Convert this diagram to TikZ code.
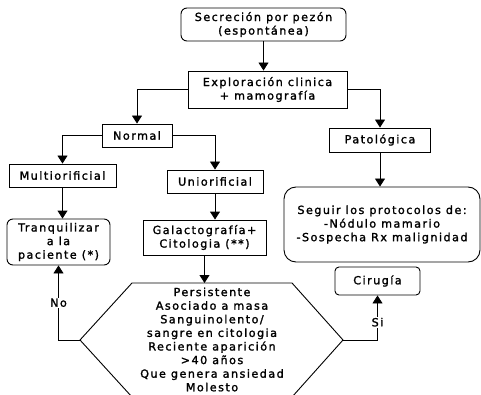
\documentclass[tikz,border=0pt]{standalone}
\usepackage{fontspec}
\setmainfont{DejaVu Sans}[LetterSpace=13,FakeBold=1.6]
\usetikzlibrary{arrows.meta}
\begin{document}
\begin{tikzpicture}[x=1pt,y=-1pt, line width=0.9pt,
  txt/.style={font=\fontsize{11.2}{13.6}\selectfont},
  box/.style={draw, txt, inner sep=0pt, align=center},
  rbox/.style={box, rounded corners=6pt},
  arr/.style={-{Triangle[length=8pt,width=10pt]}},
  lab/.style={txt, fill=white, inner sep=1pt}]
\useasboundingbox (0,0) rectangle (481,395);
\clip (0,0) rectangle (481,395);
\node[rbox, minimum width=165pt, minimum height=33pt] (sec) at (263.5,24.5) {Secreción por pezón\\(espontánea)};
\node[box, minimum width=159pt, minimum height=37pt] (exp) at (267.5,89.5) {Exploración clinica\\+ mamografía};
\node[box, minimum width=70pt, minimum height=23pt] (nor) at (137,135.5) {Normal};
\node[box, minimum width=101pt, minimum height=24pt] (pat) at (380,140) {Patológica};
\node[box, minimum width=107pt, minimum height=23pt] (mul) at (62.5,175.5) {Multiorificial};
\node[box, minimum width=96pt, minimum height=23pt] (uni) at (215,181.5) {Uniorificial};
\node[rbox, minimum width=103pt, minimum height=46pt] (tra) at (58.5,242) {Tranquilizar\\a la\\paciente (*)};
\node[box, minimum width=123pt, minimum height=35pt] (gal) at (204.5,237.5) {Galactografía+\\Citologia (**)};
\node[rbox, rounded corners=12pt, minimum width=196pt, minimum height=75pt] (seg) at (382,224.5) {Seguir los protocolos de:\\-Nódulo mamario\\-Sospecha Rx malignidad};
\node[rbox, rounded corners=4pt, minimum width=85pt, minimum height=28pt] (cir) at (377.5,281) {Cirugía};
\draw (132,283) coordinate (hT) -- (292,283) -- (343,340) coordinate (hR) -- (292,397) -- (132,397) -- (80,340) coordinate (hL) -- cycle;
\node[txt, align=center, inner sep=0pt] (crit) at (212,339.5) {Persistente\\Asociado a masa\\Sanguinolento/\\sangre en citologia\\Reciente aparición\\>40 años\\Que genera ansiedad\\Molesto};
\draw[arr] (sec.south) -- (sec.south |- exp.north);
\draw[arr] (exp.west) -| (nor.north);
\draw[arr] (exp.east) -| (pat.north);
\draw[arr] (nor.west) -| (mul.north);
\draw[arr] (nor.east) -| (uni.north);
\draw[arr] (mul.south) -- (mul.south |- tra.north);
\draw[arr] (uni.south) -- (uni.south |- gal.north);
\draw[arr] (pat.south) -- (pat.south |- seg.north);
\draw[arr] (gal.south) -- (gal.south |- hT);
\draw[arr] (hL) -| node[lab, pos=0.75] {No} (tra.south);
\draw[arr] (hR) -| node[lab, pos=0.7] {Si} (cir.south);
\end{tikzpicture}
\end{document}
